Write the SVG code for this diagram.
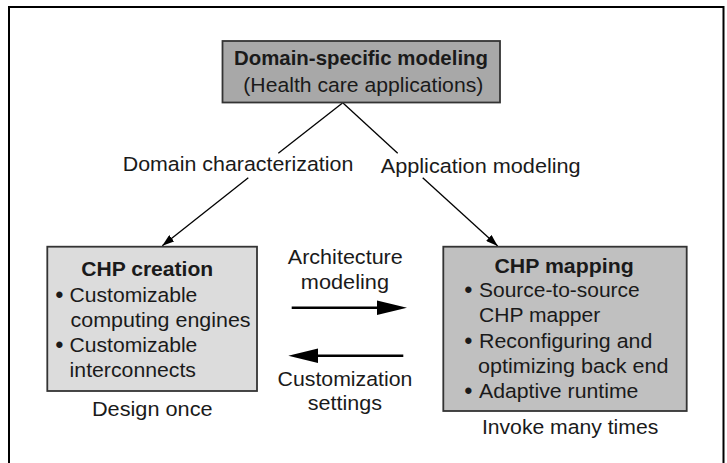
<svg xmlns="http://www.w3.org/2000/svg" width="727" height="463" viewBox="0 0 727 463">
<style>
text{font-family:"Liberation Sans",Arial,Helvetica,sans-serif;font-size:20.5px;fill:#1a1a1a}
.b{font-weight:bold}
.bu{font-size:22px;font-weight:bold}
.box{stroke:#333;stroke-width:1.8}
.ln{stroke:#000;stroke-width:1.3;fill:none}
.th{stroke:#000;stroke-width:2.6;fill:none}
</style>
<defs>
<marker id="ah" viewBox="0 0 12 8" refX="12" refY="4" markerWidth="12" markerHeight="8" markerUnits="userSpaceOnUse" orient="auto">
<path d="M0,0 L12,4 L0,8 Z" fill="#000"/>
</marker>
</defs>
<rect width="727" height="463" fill="#fff"/>
<path d="M9,470 V7 H723.5 V470" fill="none" stroke="#000" stroke-width="2"/>
<g id="connectors">
<line class="ln" x1="342.5" y1="103" x2="278.3" y2="153.3"/>
<line class="ln" x1="248.3" y1="177.7" x2="162.3" y2="245.7" marker-end="url(#ah)"/>
<line class="ln" x1="343" y1="103" x2="397.7" y2="153.3"/>
<line class="ln" x1="422.7" y1="177.7" x2="497.7" y2="246" marker-end="url(#ah)"/>
<line class="th" x1="291.7" y1="307.7" x2="380" y2="307.7"/>
<path d="M377,300.5 L407,307.7 L377,314.9 Z" fill="#000"/>
<line class="th" x1="316" y1="355.7" x2="403.3" y2="355.7"/>
<path d="M318,348.5 L288.3,355.7 L318,362.9 Z" fill="#000"/>
<text x="287.8" y="264.3" textLength="115" lengthAdjust="spacingAndGlyphs">Architecture</text>
<text x="300.8" y="289.3" textLength="88.2" lengthAdjust="spacingAndGlyphs">modeling</text>
<text x="277.6" y="386" textLength="134.7" lengthAdjust="spacingAndGlyphs">Customization</text>
<text x="307.8" y="410" textLength="74.2" lengthAdjust="spacingAndGlyphs">settings</text>
<text x="122.7" y="171" textLength="230.6" lengthAdjust="spacingAndGlyphs">Domain characterization</text>
<text x="380.7" y="173" textLength="200" lengthAdjust="spacingAndGlyphs">Application modeling</text>
</g>
<g id="domain-modeling">
<rect class="box" x="222.5" y="41" width="277.5" height="61.5" fill="#a8a8a8"/>
<text class="b" x="234" y="65" textLength="254" lengthAdjust="spacingAndGlyphs">Domain-specific modeling</text>
<text x="243.3" y="92" textLength="240" lengthAdjust="spacingAndGlyphs">(Health care applications)</text>
</g>
<g id="chp-creation">
<rect class="box" x="47.3" y="246.7" width="209.7" height="144.3" fill="#dcdcdc"/>
<text class="b" x="81.2" y="276" textLength="132" lengthAdjust="spacingAndGlyphs">CHP creation</text>
<text class="bu" x="55.5" y="301.5">•</text>
<text x="69.6" y="301.5" textLength="127.7" lengthAdjust="spacingAndGlyphs">Customizable</text>
<text x="70.6" y="326.5" textLength="180" lengthAdjust="spacingAndGlyphs">computing engines</text>
<text class="bu" x="55.5" y="351.5">•</text>
<text x="69.6" y="351.5" textLength="127.7" lengthAdjust="spacingAndGlyphs">Customizable</text>
<text x="69.6" y="376.5" textLength="126.4" lengthAdjust="spacingAndGlyphs">interconnects</text>
<text x="91.9" y="416" textLength="120.7" lengthAdjust="spacingAndGlyphs">Design once</text>
</g>
<g id="chp-mapping">
<rect class="box" x="443.3" y="246.7" width="243.4" height="164.3" fill="#c0c0c0"/>
<text class="b" x="494.4" y="273.3" textLength="139.3" lengthAdjust="spacingAndGlyphs">CHP mapping</text>
<text class="bu" x="464.5" y="296.7">•</text>
<text x="479" y="296.7" textLength="160.7" lengthAdjust="spacingAndGlyphs">Source-to-source</text>
<text x="479" y="322" textLength="121.3" lengthAdjust="spacingAndGlyphs">CHP mapper</text>
<text class="bu" x="464.5" y="347.7">•</text>
<text x="479" y="347.7" textLength="173.3" lengthAdjust="spacingAndGlyphs">Reconfiguring and</text>
<text x="478" y="372.7" textLength="190.5" lengthAdjust="spacingAndGlyphs">optimizing back end</text>
<text class="bu" x="464.5" y="398.3">•</text>
<text x="479" y="398.3" textLength="159.4" lengthAdjust="spacingAndGlyphs">Adaptive runtime</text>
<text x="481.9" y="434" textLength="176.4" lengthAdjust="spacingAndGlyphs">Invoke many times</text>
</g>
</svg>
